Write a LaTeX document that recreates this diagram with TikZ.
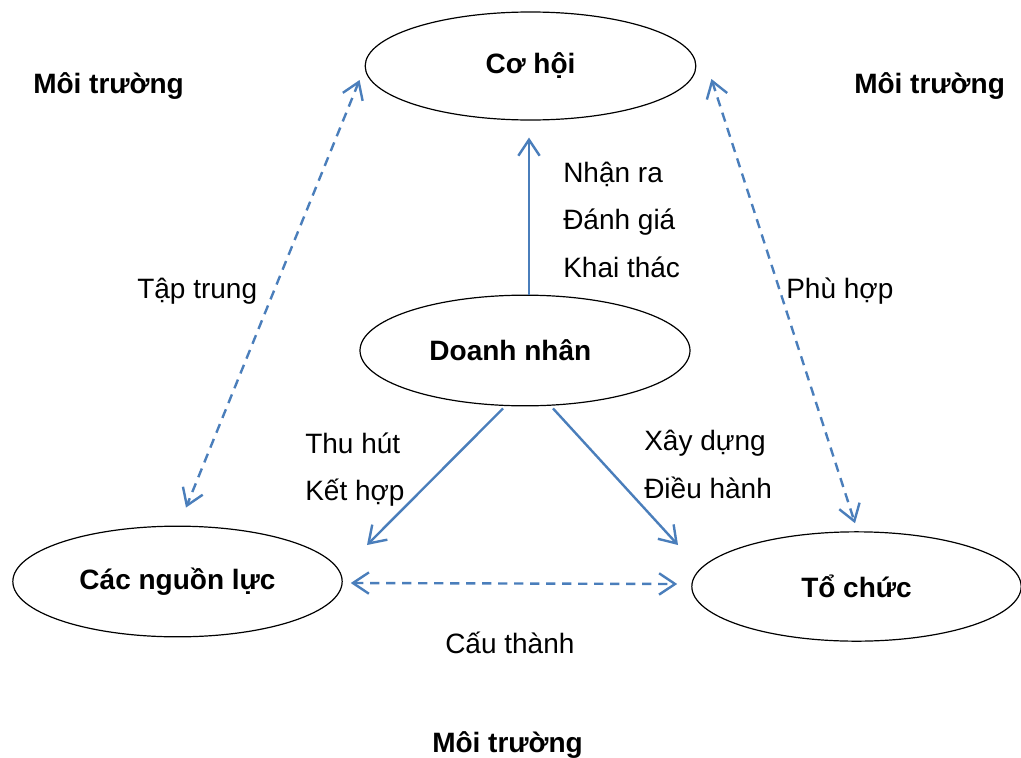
\documentclass[tikz,border=0pt]{standalone}
\usepackage{fontspec}
\setmainfont{Liberation Sans}
\usetikzlibrary{shapes.geometric,arrows.meta,calc}
\definecolor{arrblue}{HTML}{4A7EBB}
\tikzset{
  oval/.style={draw=black, line width=0.9pt, ellipse, inner sep=0pt, font=\fontsize{21}{25}\selectfont\bfseries},
  lbl/.style={anchor=base west, inner sep=0pt, font=\fontsize{21}{25}\selectfont},
  envlbl/.style={anchor=base west, inner sep=0pt, font=\fontsize{21}{25}\selectfont\bfseries},
  solidarr/.style={draw=arrblue, line width=1.8pt, -{Straight Barb[length=12pt, width=16pt]}},
  dasharr/.style={draw=arrblue, line width=1.8pt, dash pattern=on 7pt off 5pt, {Straight Barb[length=12pt, width=16pt]}-{Straight Barb[length=12pt, width=16pt]}}
}
\begin{document}
\begin{tikzpicture}[x=0.75pt, y=-0.75pt]
\useasboundingbox (0,0) rectangle (1021,757);
% ellipses
\node[oval, minimum width=248pt, minimum height=81pt] (coh) at (530.5,66) {Cơ hội};
\node[oval, minimum width=247.5pt, minimum height=83pt] (dn) at (525,350.5) {Doanh nhân\hspace*{22pt}};
\node[oval, minimum width=247pt, minimum height=83pt] (cn) at (177.5,581.5) {Các nguồn lực};
\node[oval, minimum width=247pt, minimum height=82pt] (tc) at (856.5,586.5) {Tổ chức};
% solid arrows
\draw[solidarr] ($(dn.north)+(4,0)$) -- ($(coh.south)+(-1.5,17)$);
\draw[solidarr] ($(dn.south)+(-22,2)$) -- ($(cn.center)+(189.5,-36.5)$);
\draw[solidarr] ($(dn.south)+(28,2)$) -- ($(tc.center)+(-178.5,-41.5)$);
% dashed double arrows
\draw[dasharr] ($(coh.west)+(-5,14)$) -- ($(cn.north)+(8.5,-18)$);
\draw[dasharr] ($(coh.east)+(15,13)$) -- ($(tc.north)+(-1.5,-8)$);
\draw[dasharr] ($(cn.east)+(8,1.5)$) -- ($(tc.west)+(-14,-2.5)$);
% labels
\node[lbl] (l1) at (563,182) {Nhận ra};
\node[lbl] (l2) at (563,229) {Đánh giá};
\node[lbl] (l3) at (563,277) {Khai thác};
\node[lbl] (l4) at (137,298) {Tập trung};
\node[lbl] (l5) at (786,298) {Phù hợp};
\node[lbl] (l6) at (305,453) {Thu hút};
\node[lbl] (l7) at (305,500) {Kết hợp};
\node[lbl] (l8) at (644,450) {Xây dựng};
\node[lbl] (l9) at (644,498) {Điều hành};
\node[lbl] (l10) at (445,653) {Cấu thành};
% environment labels
\node[envlbl] (e1) at (33,93) {Môi trường};
\node[envlbl] (e2) at (854,93) {Môi trường};
\node[envlbl] (e3) at (432,752) {Môi trường};
\end{tikzpicture}
\end{document}
